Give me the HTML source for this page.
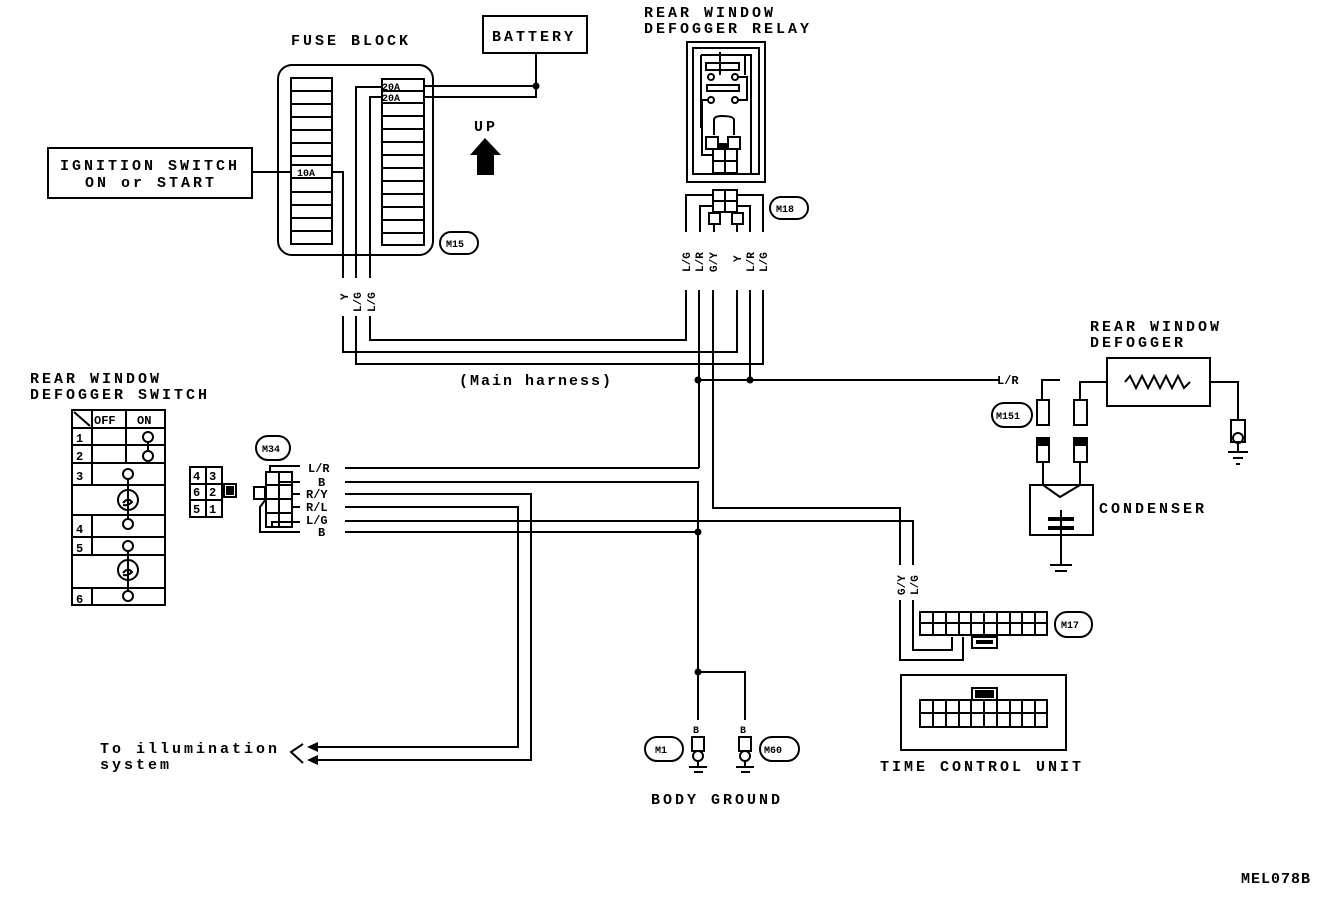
<!DOCTYPE html>
<html><head><meta charset="utf-8"><style>
html,body{margin:0;padding:0;background:#fff}
svg{display:block}
text{font-family:"Liberation Mono","DejaVu Sans Mono",monospace;font-weight:bold;fill:#000}
.big text{letter-spacing:3px}
</style></head><body>
<svg width="1344" height="900" viewBox="0 0 1344 900" xmlns="http://www.w3.org/2000/svg">
<g fill="none" stroke="#000" stroke-width="2">
<rect x="483" y="16" width="104" height="37"/>
<rect x="48" y="148" width="204" height="50"/>
<line x1="252" y1="172" x2="292" y2="172"/>
<rect x="278" y="65" width="155" height="190" rx="14"/>
<rect x="291" y="78" width="41" height="166"/>
<path d="M291 91h41M291 104h41M291 117h41M291 130h41M291 143h41M291 156h41M291 165h41M291 178h41M291 192h41M291 205h41M291 218h41M291 231h41"/>
<rect x="382" y="79" width="42" height="166"/>
<path d="M382 91h42M382 103h42M382 116h42M382 129h42M382 142h42M382 155h42M382 168h42M382 181h42M382 194h42M382 207h42M382 220h42M382 233h42"/>
<path d="M536 53V86M424 86H536M424 97H536V86"/>
<path d="M332 172H343V352H737V272"/>
<path d="M382 87H356V364H763V272"/>
<path d="M382 97H370V340H686V272"/>
<rect x="687" y="42" width="78" height="140"/>
<rect x="693" y="48" width="66" height="126"/>
<path d="M701 55V128M701 55H751V174M720 52V75M745 75V55"/>
<rect x="706" y="63" width="33" height="7"/>
<rect x="707" y="85" width="32" height="6"/>
<circle cx="711" cy="77" r="3"/><circle cx="735" cy="77" r="3"/>
<circle cx="711" cy="100" r="3"/><circle cx="735" cy="100" r="3"/>
<path d="M738 77H747V100H738M708 100H702V155H712"/>
<path d="M714 135V120Q714 116 722 116Q734 116 734 120V135"/>
<rect x="706" y="137" width="12" height="12"/><rect x="728" y="137" width="12" height="12"/>
<rect x="713" y="149" width="12" height="12"/><rect x="725" y="149" width="12" height="12"/>
<rect x="713" y="161" width="12" height="12"/><rect x="725" y="161" width="12" height="12"/>
<rect x="713" y="190" width="12" height="11"/><rect x="725" y="190" width="12" height="11"/>
<rect x="713" y="201" width="12" height="11"/><rect x="725" y="201" width="12" height="11"/>
<rect x="709" y="213" width="11" height="11"/><rect x="732" y="213" width="11" height="11"/>
<path d="M713 195H686V232M737 195H763V232M713 206H700V232M737 206H750V232M714 224V232M737 224V232"/>
<path d="M686 290V340M699 290V468M713 290V508M737 290V352M750 290V380M763 290V364"/>
<rect x="770" y="197" width="38" height="22" rx="11"/>
<rect x="440" y="232" width="38" height="22" rx="11"/>
<path d="M698 380H1000"/>
<path d="M712 508H900V660H963V637"/>
<path d="M345 521H913V650H952V637"/>
<path d="M345 468H699"/>
<path d="M345 482H698V672H745V720"/>
<path d="M345 532H698"/>
<path d="M698 672V720"/>
<path d="M345 494H531V760H318"/>
<path d="M345 507H518V747H318"/>
<rect x="72" y="410" width="93" height="195"/>
<path d="M72 428H165M72 445H165M72 463H165M72 485H165M72 515H165M72 537H165M72 555H165M72 588H165M92 410V463M126 410V463M92 463V485M92 515V555M92 588V605M74 412L90 426"/>
<circle cx="148" cy="437" r="5"/><circle cx="148" cy="456" r="5"/>
<path d="M148 442V451"/>
<circle cx="128" cy="474" r="5"/><circle cx="128" cy="500" r="10"/><circle cx="128" cy="524" r="5"/>
<circle cx="128" cy="546" r="5"/><circle cx="128" cy="570" r="10"/><circle cx="128" cy="596" r="5"/>
<path d="M128 479V519M128 551V591"/>
<path d="M123 503q5-6 9-1q-4 4-9 3M123 573q5-6 9-1q-4 4-9 3"/>
<rect x="190" y="467" width="32" height="50"/>
<path d="M190 484H222M190 500H222M206 467V517"/>
<rect x="224" y="484" width="12" height="13"/>
<rect x="227" y="487" width="6" height="7" fill="#000"/>
<rect x="256" y="436" width="34" height="24" rx="12"/>
<rect x="266" y="472" width="26" height="55"/>
<path d="M279 472V527M266 485H292M266 499H292M266 513H292"/>
<rect x="254" y="487" width="11" height="12"/>
<path d="M270 472V466H300M279 482H300M292 494H300M292 507H300M272 527V522H300M266 499L260 507V532H300"/>
<path d="M303 744L291 752L303 763"/>
<path d="M1060 380H1042V400M1080 400V382H1107M1210 382H1238V420"/>
<rect x="1037" y="400" width="12" height="25"/><rect x="1074" y="400" width="13" height="25"/>
<rect x="1037" y="438" width="12" height="24"/><rect x="1074" y="438" width="13" height="24"/>
<rect x="992" y="403" width="40" height="24" rx="12"/>
<path d="M1043 462V485L1060 497L1080 485V462"/>
<rect x="1030" y="485" width="63" height="50"/>
<path d="M1061 510V565M1050 565H1072M1055 571H1067"/>
<rect x="1107" y="358" width="103" height="48"/>
<path d="M1125 382L1130 376L1136 388L1142 376L1148 388L1154 376L1160 388L1166 376L1172 388L1178 376L1184 388L1190 382"/>
<rect x="1231" y="420" width="14" height="22"/>
<circle cx="1238" cy="438" r="5"/>
<path d="M1238 443V452M1228 452H1248M1233 458H1243M1236 464H1240"/>
<rect x="920" y="612" width="127" height="23"/>
<path d="M920 623H1047M933 612V635M946 612V635M959 612V635M971 612V635M984 612V635M997 612V635M1010 612V635M1022 612V635M1035 612V635"/>
<rect x="972" y="637" width="25" height="11"/>
<rect x="1055" y="612" width="37" height="25" rx="12"/>
<rect x="901" y="675" width="165" height="75"/>
<rect x="920" y="700" width="127" height="27"/>
<path d="M920 713H1047M933 700V727M946 700V727M959 700V727M971 700V727M984 700V727M997 700V727M1010 700V727M1022 700V727M1035 700V727"/>
<rect x="972" y="688" width="25" height="12"/>
<rect x="692" y="737" width="12" height="14"/><circle cx="698" cy="756" r="5"/>
<rect x="739" y="737" width="12" height="14"/><circle cx="745" cy="756" r="5"/>
<path d="M698 761V767M689 767H707M694 772H703M745 761V767M736 767H754M741 772H750"/>
<rect x="645" y="737" width="38" height="24" rx="12"/>
<rect x="760" y="737" width="39" height="24" rx="12"/>
</g>
<g fill="#000">
<circle cx="536" cy="86" r="3.5"/>
<circle cx="698" cy="380" r="3.5"/><circle cx="750" cy="380" r="3.5"/>
<circle cx="698" cy="532" r="3.5"/><circle cx="698" cy="672" r="3.5"/>
<path d="M485 138L470 155H477V175H494V155H501Z"/>
<path d="M307 747L318 742V752ZM307 760L318 755V765Z"/>
<rect x="1037" y="438" width="12" height="8"/><rect x="1074" y="438" width="13" height="8"/>
<rect x="1048" y="517" width="26" height="4"/><rect x="1048" y="526" width="26" height="4"/>
<rect x="975" y="690" width="19" height="8"/>
<rect x="976" y="640" width="17" height="4"/>
<rect x="717" y="143" width="12" height="6"/>
</g>
<g font-size="15" class="big">
<text x="291" y="45">FUSE BLOCK</text>
<text x="492" y="41">BATTERY</text>
<text x="644" y="17">REAR WINDOW</text>
<text x="644" y="33">DEFOGGER RELAY</text>
<text x="60" y="170">IGNITION SWITCH</text>
<text x="85" y="187">ON or START</text>
<text x="474" y="131">UP</text>
<text x="30" y="383">REAR WINDOW</text>
<text x="30" y="399">DEFOGGER SWITCH</text>
<text x="1090" y="331">REAR WINDOW</text>
<text x="1090" y="347">DEFOGGER</text>
<text x="1099" y="513">CONDENSER</text>
<text x="880" y="771">TIME CONTROL UNIT</text>
<text x="651" y="804">BODY GROUND</text>
<text x="459" y="385" font-weight="normal" style="letter-spacing:2px">(Main harness)</text>
<text x="100" y="753" font-weight="normal">To illumination</text>
<text x="100" y="769" font-weight="normal">system</text>
<text x="1241" y="883" font-family="Liberation Sans" font-size="15" style="letter-spacing:1px">MEL078B</text>
</g>
<g font-size="12">
<text x="382" y="90" font-size="10">20A</text>
<text x="382" y="101" font-size="10">20A</text>
<text x="297" y="176" font-size="10">10A</text>
<text x="94" y="424" font-size="12">OFF</text>
<text x="137" y="424" font-size="12">ON</text>
<text x="76" y="442">1</text><text x="76" y="460">2</text><text x="76" y="480">3</text>
<text x="76" y="533">4</text><text x="76" y="552">5</text><text x="76" y="603">6</text>
<text x="193" y="480">4</text><text x="209" y="480">3</text>
<text x="193" y="496">6</text><text x="209" y="496">2</text>
<text x="193" y="513">5</text><text x="209" y="513">1</text>
<text x="262" y="452" font-size="10">M34</text>
<text x="776" y="212" font-size="10">M18</text>
<text x="446" y="247" font-size="10">M15</text>
<text x="996" y="419" font-size="10">M151</text>
<text x="1061" y="628" font-size="10">M17</text>
<text x="655" y="753" font-size="10">M1</text>
<text x="764" y="753" font-size="10">M60</text>
<text x="308" y="472">L/R</text><text x="318" y="486">B</text>
<text x="306" y="498">R/Y</text><text x="306" y="511">R/L</text>
<text x="306" y="524">L/G</text><text x="318" y="536">B</text>
<text x="997" y="384">L/R</text>
<text x="693" y="733" font-size="10">B</text><text x="740" y="733" font-size="10">B</text>
</g>
<g fill="#fff">
<rect x="340" y="278" width="36" height="38"/>
<rect x="682" y="232" width="86" height="58"/>
<rect x="896" y="565" width="22" height="35"/>
</g>
<g font-size="11">
<text transform="translate(348,300) rotate(-90)">Y</text>
<text transform="translate(361,312) rotate(-90)">L/G</text>
<text transform="translate(375,312) rotate(-90)">L/G</text>
<text transform="translate(690,272) rotate(-90)">L/G</text>
<text transform="translate(703,272) rotate(-90)">L/R</text>
<text transform="translate(717,272) rotate(-90)">G/Y</text>
<text transform="translate(741,262) rotate(-90)">Y</text>
<text transform="translate(754,272) rotate(-90)">L/R</text>
<text transform="translate(767,272) rotate(-90)">L/G</text>
<text transform="translate(905,595) rotate(-90)">G/Y</text>
<text transform="translate(918,595) rotate(-90)">L/G</text>
</g>
</svg>
</body></html>
